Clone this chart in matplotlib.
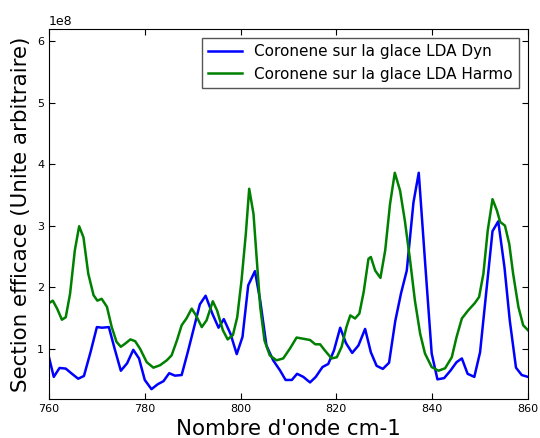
import numpy as np
import matplotlib
matplotlib.use("Agg")
import matplotlib.pyplot as plt

# Coronene sur la glace LDA Dyn (values in 1e8)
x_dyn = [760, 761, 762.2, 763.5, 764.8, 766.1, 767.3, 768.7, 770, 771.1, 772.5, 773.7,
         775, 776.3, 777.6, 778.8, 780, 781.4, 782.7, 783.9, 785.1, 786.3, 787.7,
         789, 790.3, 791.5, 792.7, 794.1, 795.4, 796.5, 797.9, 799.2, 800.4, 801.6,
         803, 804.1, 805.4, 806.8, 808.2, 809.4, 810.7, 811.8, 813.1, 814.5, 815.7,
         817.1, 818.3, 819.5, 820.8, 822, 823.3, 824.6, 826, 827.2, 828.4, 829.7,
         831, 832.3, 833.5, 834.7, 836.1, 837.2, 838.5, 839.9, 841.1, 842.5, 843.8,
         845.1, 846.2, 847.4, 848.8, 850, 851.4, 852.6, 853.8, 855.1, 856.2, 857.5,
         858.7, 860]
y_dyn = [0.86, 0.54, 0.685, 0.675, 0.59, 0.51, 0.555, 0.95, 1.35, 1.34, 1.35, 1.0,
         0.64, 0.76, 0.98, 0.84, 0.49, 0.34, 0.42, 0.47, 0.60, 0.56, 0.57,
         0.95, 1.35, 1.72, 1.86, 1.57, 1.34, 1.48, 1.24, 0.91, 1.19, 2.03,
         2.26, 1.78, 1.05, 0.81, 0.65, 0.49, 0.49, 0.59, 0.54, 0.45, 0.54,
         0.70, 0.75, 0.97, 1.34, 1.09, 0.93, 1.05, 1.32, 0.94, 0.72, 0.67,
         0.77, 1.45, 1.90, 2.27, 3.38, 3.86, 2.43, 0.92, 0.50, 0.52, 0.64,
         0.78, 0.84, 0.59, 0.54, 0.94, 2.00, 2.91, 3.07, 2.32, 1.46, 0.69,
         0.57, 0.54]

# Coronene sur la glace LDA Harmo (values in 1e8)
x_harm = [760, 760.8, 761.7, 762.7, 763.5, 764.4, 765.4, 766.3, 767.2, 768.2, 769.3,
          770.1, 771, 772.1, 773.1, 774.1, 775, 775.9, 777, 778, 779, 780.4, 781.8,
          783.2, 784.6, 785.6, 786.7, 787.7, 788.7, 789.8, 790.7, 791.9, 792.9,
          794.2, 795.1, 796.3, 797.3, 798.4, 799.3, 800.2, 801.1, 801.8, 802.7,
          803.4, 804.1, 805, 806.1, 807.5, 808.9, 810.3, 811.7, 813.1, 814.5,
          815.6, 816.6, 817.6, 819, 820.1, 821.1, 822.1, 822.9, 823.9, 824.8,
          825.7, 826.7, 827.2, 828.1, 829.2, 830.2, 831.2, 832.2, 833.3, 834.3,
          835.4, 836.4, 837.5, 838.5, 839.9, 841.3, 842.7, 844.1, 845.1, 846.2,
          847.5, 848.9, 849.8, 850.7, 851.6, 852.6, 853.5, 854.2, 855.2, 856.1,
          856.9, 858, 859, 860]
y_harm = [1.74, 1.78, 1.65, 1.47, 1.51, 1.89, 2.60, 2.99, 2.81, 2.22, 1.87,
          1.78, 1.81, 1.68, 1.35, 1.11, 1.03, 1.08, 1.15, 1.12, 1.00, 0.78, 0.69,
          0.73, 0.81, 0.89, 1.13, 1.38, 1.49, 1.65, 1.54, 1.35, 1.46,
          1.77, 1.62, 1.30, 1.15, 1.22, 1.51, 2.11, 2.87, 3.60, 3.19,
          2.43, 1.68, 1.13, 0.89, 0.81, 0.84, 1.00, 1.18, 1.16, 1.14,
          1.07, 1.07, 0.97, 0.84, 0.86, 1.03, 1.35, 1.54, 1.49, 1.57,
          1.92, 2.46, 2.49, 2.27, 2.15, 2.60, 3.35, 3.86, 3.57, 3.08,
          2.43, 1.78, 1.24, 0.92, 0.70, 0.64, 0.68, 0.86, 1.19, 1.49,
          1.62, 1.74, 1.84, 2.22, 2.92, 3.43, 3.25, 3.06, 3.00, 2.70,
          2.22, 1.68, 1.38, 1.30]

fig = plt.figure(figsize=(5.4, 4.38), dpi=100)
ax = fig.add_axes([0.0907, 0.089, 0.887, 0.845])

ax.plot(x_dyn, np.array(y_dyn) * 1e8, color='b', lw=1.8, label="Coronene sur la glace LDA Dyn")
ax.plot(x_harm, np.array(y_harm) * 1e8, color='g', lw=1.8, label="Coronene sur la glace LDA Harmo")

ax.set_xlim(760, 860)
ax.set_ylim(0.18e8, 6.2e8)
ax.set_xticks([760, 780, 800, 820, 840, 860])
ax.set_yticks([1e8, 2e8, 3e8, 4e8, 5e8, 6e8])
ax.tick_params(direction='in', top=True, right=True, length=4, labelsize=8)
ax.yaxis.get_offset_text().set_fontsize(9)

ax.set_xlabel("Nombre d'onde cm-1", fontsize=15.4)
ax.set_ylabel("Section efficace (Unite arbitraire)", fontsize=15.4)

leg = ax.legend(loc="upper right", fontsize=11, fancybox=False, framealpha=1,
                handlelength=2.2, borderaxespad=0.6)
leg.get_frame().set_edgecolor('#555555')

fig.savefig("out.png", dpi=100)
